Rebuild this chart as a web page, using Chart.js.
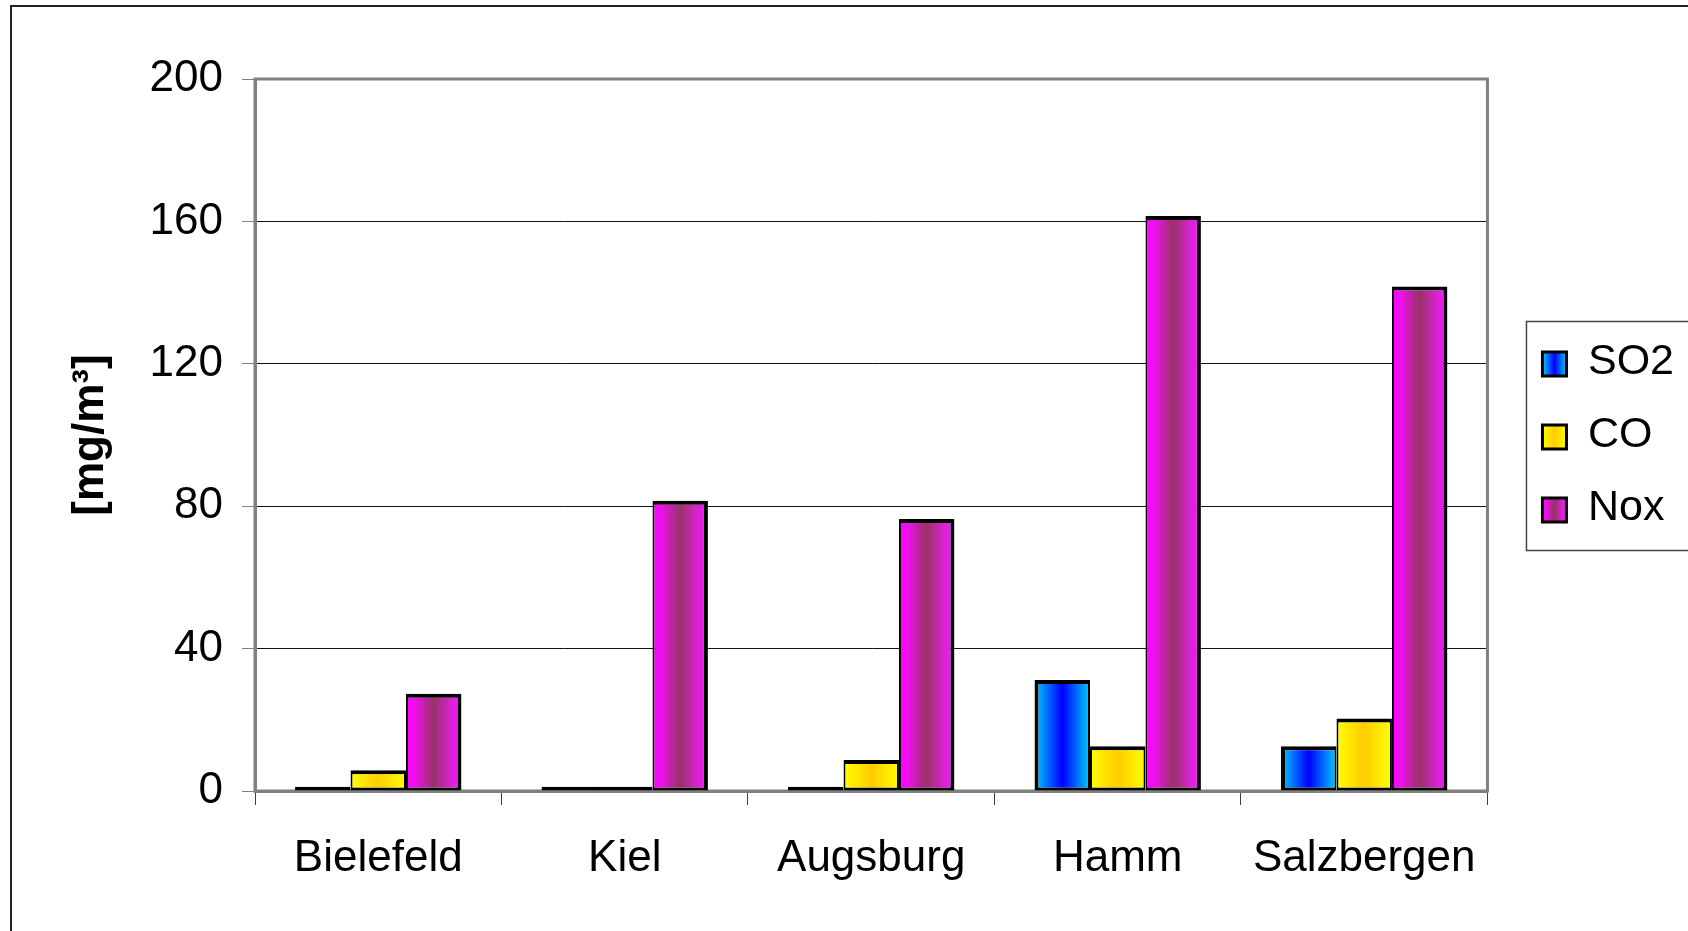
<!DOCTYPE html>
<html>
<head>
<meta charset="utf-8">
<title>Emissionen</title>
<script src="https://cdn.jsdelivr.net/npm/chart.js@4.4.1/dist/chart.umd.min.js"></script>
<style>
  html, body { margin: 0; padding: 0; background: #fff; }
  #chart { display: block; }
</style>
</head>
<body>
<canvas id="chart" width="1688" height="931"></canvas>
<script>
/* ═══════════════════════════════════════════════════════════
   Data
   ═══════════════════════════════════════════════════════════ */
const CITIES = ['Bielefeld', 'Kiel', 'Augsburg', 'Hamm', 'Salzbergen'];
const SO2 = [1.2, 1.2, 1.2, 31.2, 12.6];
const CO = [5.8, 1.2, 8.7, 12.6, 20.4];
const NOX = [27.3, 81.5, 76.4, 161.5, 141.7];
const SERIES = ['SO2', 'CO', 'Nox'];
const Y_TICKS = [0, 40, 80, 120, 160, 200];
const Y_TITLE = '[mg/m³]';

/* ═══════════════════════════════════════════════════════════
   Styles
   ═══════════════════════════════════════════════════════════ */
const FONT = "'Liberation Sans', Arial, sans-serif";
const CAT_PCT = 0.675;
const STOPS = [
    [[0, '#00CCFF'], [0.5, '#0000FF'], [1, '#00CCFF']],
    [[0, '#FFFF00'], [0.5, '#FFCC00'], [1, '#FFFF00']],
    [[0, '#FF00FF'], [0.15, '#F010F0'], [0.5, '#993366'], [0.85, '#E020E0'], [1, '#FF10FF']]
];
const LEGEND_FONT = 43;
const LEGEND_BOX = 24;

// horizontal gradient across the width of each bar
function barFill(stops) {
    return (ctx) => {
        const chart = ctx.chart;
        const xs = chart.scales.x;
        const fallback = stops[1][1];
        if (!xs || ctx.dataIndex === undefined) return fallback;
        const nSets = chart.data.datasets.length;
        const groupW = (xs.width / chart.data.labels.length) * CAT_PCT;
        const barW = groupW / nSets;
        const left = xs.getPixelForValue(ctx.dataIndex) - groupW / 2 + ctx.datasetIndex * barW;
        if (!isFinite(left) || !(barW > 0)) return fallback;
        const g = chart.ctx.createLinearGradient(left, 0, left + barW, 0);
        stops.forEach(([o, c]) => g.addColorStop(o, c));
        return g;
    };
}

/* ═══════════════════════════════════════════════════════════
   Plugins — plot frame, outer border, legend box
   ═══════════════════════════════════════════════════════════ */
const framePlugin = {
    id: 'frame',
    beforeDatasetsDraw(chart) {
        const { ctx, chartArea: a } = chart;
        ctx.save();
        ctx.strokeStyle = '#808080';
        ctx.lineWidth = 3;
        ctx.strokeRect(a.left, a.top, a.right - a.left, a.bottom - a.top);
        ctx.restore();
    },
    afterDraw(chart) {
        const ctx = chart.ctx;
        ctx.save();
        ctx.strokeStyle = '#222';
        ctx.lineWidth = 2;
        ctx.strokeRect(11, 6, chart.width + 20, chart.height + 20);
        ctx.restore();
    }
};

const legendPlugin = {
    id: 'legendBox',
    afterDraw(chart) {
        const lg = chart.legend;
        if (!lg || !lg.legendHitBoxes || !lg.legendHitBoxes.length) return;
        const ctx = chart.ctx;
        const hb = lg.legendHitBoxes;
        ctx.save();
        hb.forEach((h, i) => {
            const y = h.top + Math.max((LEGEND_FONT - LEGEND_BOX) / 2, 0) + 2;
            const g = ctx.createLinearGradient(h.left, 0, h.left + LEGEND_BOX, 0);
            STOPS[i].forEach(([o, c]) => g.addColorStop(o, c));
            ctx.clearRect(h.left - 3, y - 5, LEGEND_BOX + 6, LEGEND_BOX + 6);
            ctx.fillStyle = g;
            ctx.fillRect(h.left, y, LEGEND_BOX, LEGEND_BOX);
            ctx.strokeStyle = '#000';
            ctx.lineWidth = 3;
            ctx.strokeRect(h.left, y, LEGEND_BOX, LEGEND_BOX);
        });
        const l = Math.min(...hb.map(h => h.left)) - 16;
        const r = Math.max(...hb.map(h => h.left + h.width)) + 15;
        const t = hb[0].top - 19;
        const last = hb[hb.length - 1];
        const b = last.top + last.height + 21;
        ctx.strokeStyle = '#444';
        ctx.lineWidth = 1.5;
        ctx.strokeRect(l, t, r - l, b - t);
        ctx.restore();
    }
};

/* ═══════════════════════════════════════════════════════════
   Chart
   ═══════════════════════════════════════════════════════════ */
Chart.defaults.font.family = FONT;
Chart.defaults.color = '#000';

const values = [SO2, CO, NOX];
const borders = [
    { top: 4, bottom: 3, left: 4, right: 2 },
    { top: 4, bottom: 3, left: 2, right: 2 },
    { top: 4, bottom: 3, left: 2, right: 4 }
];

new Chart(document.getElementById('chart'), {
    type: 'bar',
    data: {
        labels: CITIES,
        datasets: SERIES.map((name, i) => ({
            label: name,
            data: values[i],
            backgroundColor: barFill(STOPS[i]),
            borderColor: '#000',
            borderWidth: borders[i],
            borderSkipped: false,
            categoryPercentage: CAT_PCT,
            barPercentage: 1
        }))
    },
    options: {
        responsive: false,
        animation: false,
        events: [],
        layout: { padding: { left: 12, top: 79, right: 4, bottom: 0 } },
        plugins: {
            tooltip: { enabled: false },
            legend: {
                position: 'right',
                fullSize: false,
                align: 'center',
                labels: {
                    boxWidth: LEGEND_BOX,
                    boxHeight: LEGEND_BOX,
                    padding: 30,
                    color: '#000',
                    font: { family: FONT, size: LEGEND_FONT },
                    generateLabels: chart => chart.data.datasets.map((ds, i) => ({
                        text: ds.label,
                        fillStyle: STOPS[i][1][1],
                        strokeStyle: '#000',
                        lineWidth: 3,
                        datasetIndex: i,
                        hidden: false
                    }))
                }
            }
        },
        scales: {
            x: {
                offset: true,
                grid: {
                    drawOnChartArea: false,
                    drawTicks: true,
                    tickLength: 14,
                    tickColor: '#404040',
                    offset: true
                },
                border: { color: '#808080', width: 3 },
                ticks: {
                    color: '#000',
                    font: { family: FONT, size: 44 },
                    padding: 27,
                    maxRotation: 0,
                    autoSkip: false
                },
                afterFit: s => { s.height = 140; }
            },
            y: {
                min: Y_TICKS[0],
                max: Y_TICKS[Y_TICKS.length - 1],
                afterBuildTicks: s => { s.ticks = Y_TICKS.map(v => ({ value: v })); },
                grid: { color: '#111', lineWidth: 1, tickLength: 13, tickColor: '#808080' },
                border: { color: '#808080', width: 3 },
                ticks: { color: '#000', font: { family: FONT, size: 44 }, padding: 19 },
                title: {
                    display: true,
                    text: Y_TITLE,
                    color: '#000',
                    font: { family: FONT, size: 44, weight: 'bold' },
                    padding: { top: 52, bottom: 0 }
                },
                afterFit: s => { s.width = 243; }
            },
            gap: {
                type: 'linear',
                position: 'right',
                display: true,
                grid: { display: false },
                ticks: { display: false },
                border: { display: false },
                afterFit: s => { s.width = 25; }
            }
        }
    },
    plugins: [framePlugin, legendPlugin]
});
</script>
</body>
</html>
